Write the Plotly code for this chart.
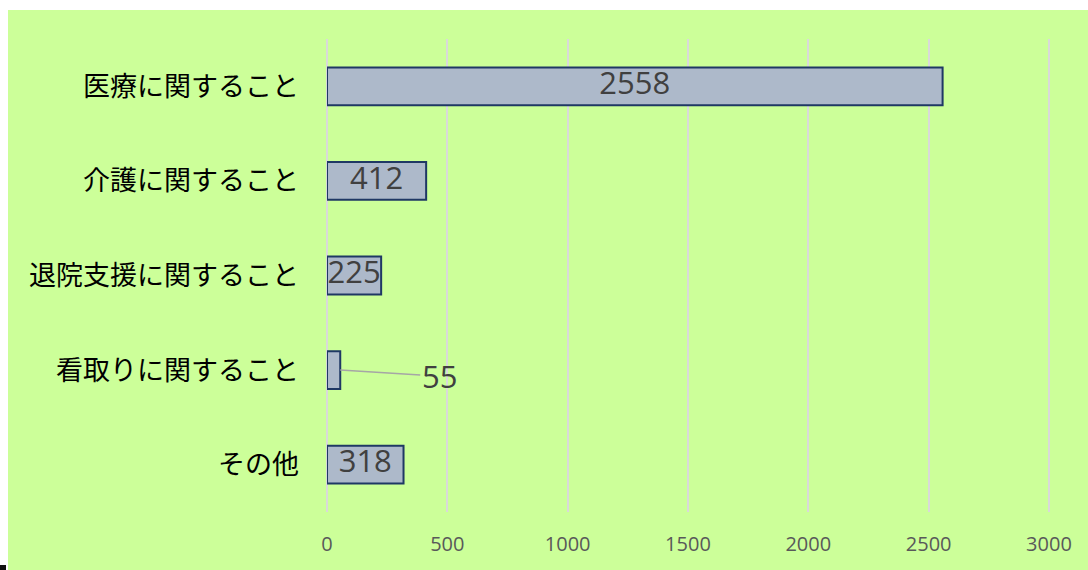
import plotly.graph_objects as go

# Consultation counts by category
categories = ["医療に関すること", "介護に関すること", "退院支援に関すること", "看取りに関すること", "その他"]
counts = [2558, 412, 225, 55, 318]
x_ticks = [0, 500, 1000, 1500, 2000, 2500, 3000]
x_max = 3050

W, H = 1088, 570
ML, MT, MB = 327, 39, 58
px_per_unit = 722 / 3000
plot_w = round(x_max * px_per_unit)
MR = W - ML - plot_w
plot_h = H - MT - MB

GREEN = "#ccff99"
BAR_FILL = "#adb9ca"
BAR_LINE = "#1f3864"
NUM_FONT = "Open Sans, Lato, sans-serif"
JP_FONT = "Noto Sans CJK JP, Noto Sans, sans-serif"

# Labels that fit inside their bar sit at the bar centre; small ones get a leader line
inside_x, inside_y, inside_t = [], [], []
outside = []
for c, v in zip(categories, counts):
    if v >= 150:
        inside_x.append(v / 2)
        inside_y.append(c)
        inside_t.append(str(v))
    else:
        outside.append((c, v))

fig = go.Figure()
fig.add_trace(go.Bar(
    y=categories, x=counts, orientation="h",
    marker=dict(color=BAR_FILL, line=dict(color=BAR_LINE, width=2)),
    hoverinfo="skip",
))
fig.add_trace(go.Scatter(
    x=inside_x, y=inside_y, text=inside_t, mode="text",
    textfont=dict(family=NUM_FONT, size=31, color="#404040"),
    textposition="middle center", hoverinfo="skip",
))

annotations = []
for c, v in outside:
    annotations.append(dict(
        x=v, y=c, xref="x", yref="y", text=str(v),
        showarrow=True, arrowhead=0, arrowwidth=1.5, arrowcolor="#a6a6a6",
        ax=99, ay=6, standoff=0,
        font=dict(family=NUM_FONT, size=31, color="#404040"),
    ))

shapes = [
    # green chart area
    dict(type="rect", xref="paper", yref="paper", layer="below",
         x0=(8 - ML) / plot_w, x1=(W - ML) / plot_w,
         y0=(H - MB - H) / plot_h, y1=(H - MB - 10) / plot_h,
         fillcolor=GREEN, line=dict(width=0)),
    # small dark mark in the bottom-left corner
    dict(type="rect", xref="paper", yref="paper", layer="above",
         x0=(0 - ML) / plot_w, x1=(6 - ML) / plot_w,
         y0=(H - MB - H) / plot_h, y1=(H - MB - 565) / plot_h,
         fillcolor="#111111", line=dict(width=0)),
]

fig.update_layout(
    width=W, height=H,
    margin=dict(l=ML, r=MR, t=MT, b=MB, pad=0),
    paper_bgcolor="white", plot_bgcolor="rgba(0,0,0,0)",
    showlegend=False, bargap=0.6,
    shapes=shapes, annotations=annotations,
    xaxis=dict(
        range=[0, x_max], tickvals=x_ticks, ticktext=[str(t) for t in x_ticks],
        showgrid=True, gridcolor="#d9d9d9", gridwidth=2,
        zeroline=True, zerolinecolor="#d9d9d9", zerolinewidth=2,
        showline=False, ticks="", ticklabelstandoff=18,
        tickfont=dict(family=NUM_FONT, size=20, color="#595959"),
        fixedrange=True,
    ),
    yaxis=dict(
        autorange="reversed", showgrid=False, zeroline=False, showline=False,
        ticks="", ticklabelstandoff=27,
        tickfont=dict(family=JP_FONT, size=27, color="#000000"),
        fixedrange=True,
    ),
)

fig.write_html("out.html")
